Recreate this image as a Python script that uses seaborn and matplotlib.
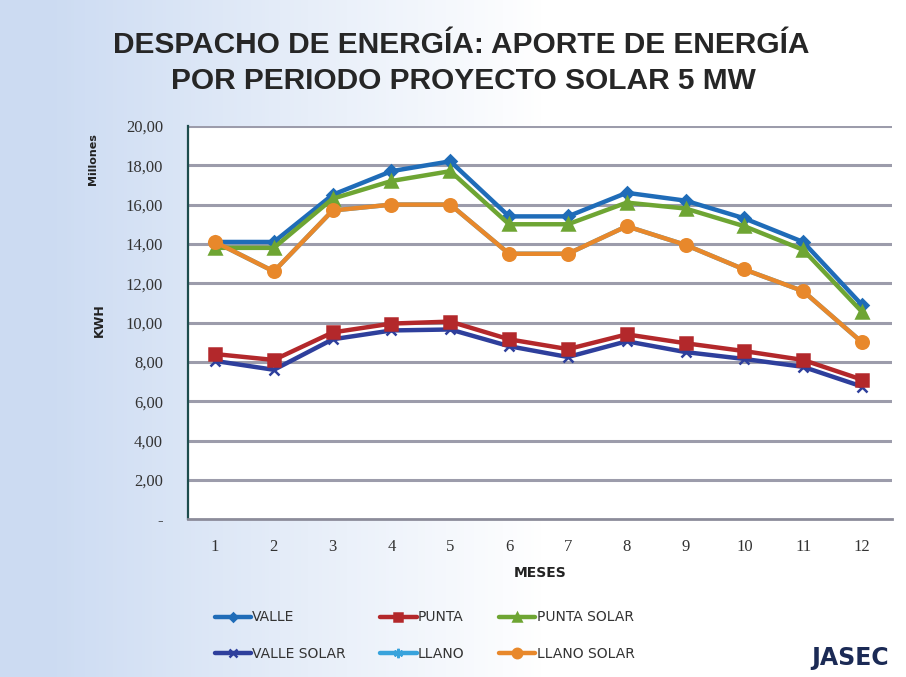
import numpy as np
import pandas as pd
import matplotlib
matplotlib.use("Agg")
import matplotlib.pyplot as plt
import seaborn as sns

# --- data (millions of kWh) ---
meses = [1, 2, 3, 4, 5, 6, 7, 8, 9, 10, 11, 12]
valle = [14.1, 14.1, 16.5, 17.7, 18.2, 15.4, 15.4, 16.6, 16.2, 15.3, 14.1, 10.9]
punta = [8.4, 8.1, 9.5, 9.95, 10.05, 9.15, 8.65, 9.4, 8.95, 8.55, 8.1, 7.1]
punta_solar = [13.8, 13.8, 16.3, 17.2, 17.7, 15.0, 15.0, 16.1, 15.8, 14.9, 13.7, 10.55]
valle_solar = [8.05, 7.6, 9.15, 9.6, 9.65, 8.8, 8.25, 9.05, 8.5, 8.15, 7.75, 6.75]
llano = [14.1, 12.6, 15.7, 16.0, 16.0, 13.5, 13.5, 14.9, 13.95, 12.7, 11.6, 9.0]
llano_solar = [14.1, 12.6, 15.7, 16.0, 16.0, 13.5, 13.5, 14.9, 13.95, 12.7, 11.6, 9.0]

y_ticks = [0, 2, 4, 6, 8, 10, 12, 14, 16, 18, 20]
y_labels = ["-", "2,00", "4,00", "6,00", "8,00", "10,00", "12,00",
            "14,00", "16,00", "18,00", "20,00"]

series = [
    ("VALLE", valle, "#1f6cb8", "D", 6),
    ("VALLE SOLAR", valle_solar, "#2e3f9c", "x", 7),
    ("PUNTA", punta, "#b3282b", "s", 8),
    ("LLANO", llano, "#38a3dc", (6, 2, 0), 9),
    ("PUNTA SOLAR", punta_solar, "#6ea533", "^", 8),
    ("LLANO SOLAR", llano_solar, "#e8882b", "o", 9),
]

sns.set_theme(style="white")
plt.rcParams["font.family"] = ["DejaVu Sans"]

fig = plt.figure(figsize=(9.06, 6.77), dpi=100)

# light blue wash on the left of the slide
bg = fig.add_axes([0, 0, 1, 1], zorder=-10)
grad = np.linspace(0, 1, 256)
grad = np.clip((grad - 0.05) / 0.55, 0, 1)
img = np.zeros((2, 256, 3))
c0 = np.array([0.80, 0.86, 0.95])
c1 = np.array([1.0, 1.0, 1.0])
for i in range(256):
    img[:, i, :] = c0 * (1 - grad[i]) + c1 * grad[i]
bg.imshow(img, aspect="auto", extent=[0, 1, 0, 1])
bg.set_axis_off()

ax = fig.add_axes([0.2075, 0.233, 0.777, 0.581])
ax.set_facecolor("white")

for name, vals, color, marker, ms in series:
    sns.lineplot(x=meses, y=vals, ax=ax, color=color, marker=marker,
                 markersize=ms, linewidth=3.2, label=name,
                 markeredgecolor=color, markeredgewidth=1.8)

ax.set_ylim(0, 20)
ax.set_xlim(0.54, 12.51)
ax.set_yticks(y_ticks)
ax.set_yticklabels(y_labels, family="Liberation Serif", fontsize=12, color="#333333")
ax.set_xticks(meses)
ax.set_xticklabels([str(m) for m in meses], family="Liberation Serif",
                   fontsize=12, color="#333333")
ax.tick_params(axis="y", pad=18, length=0)
ax.tick_params(axis="x", pad=14, length=0)

for y in y_ticks[1:]:
    ax.axhline(y, color="#9c9cab", linewidth=2.2, zorder=0)

for s in ["top", "right"]:
    ax.spines[s].set_visible(False)
ax.spines["left"].set_color("#1d4d4d")
ax.spines["left"].set_linewidth(1.6)
ax.spines["bottom"].set_color("#8c8c9a")
ax.spines["bottom"].set_linewidth(2)

ax.set_xlabel("MESES", fontsize=10, fontweight="bold", color="#222222", labelpad=8)
ax.set_ylabel("")
fig.text(0.110, 0.527, "KWH", rotation=90, fontsize=9, fontweight="bold",
         ha="center", va="center", color="#222222")
fig.text(0.103, 0.765, "Millones", rotation=90, fontsize=8, fontweight="bold",
         ha="center", va="center", color="#222222")

fig.text(0.509, 0.933, "DESPACHO DE ENERGÍA: APORTE DE ENERGÍA",
         fontsize=21.5, fontweight="bold", ha="center", va="center",
         color="#262626", family="Liberation Sans")
fig.text(0.512, 0.880, "POR PERIODO PROYECTO SOLAR 5 MW",
         fontsize=21.5, fontweight="bold", ha="center", va="center",
         color="#262626", family="Liberation Sans")

handles, labels = ax.get_legend_handles_labels()
leg = ax.legend(handles, labels, ncol=3, loc="upper left",
                bbox_to_anchor=(0.02, -0.20), frameon=False,
                fontsize=10, handlelength=2.6, handletextpad=0.1,
                columnspacing=2.5, labelspacing=1.6, markerscale=0.75)
for t in leg.get_texts():
    t.set_color("#333333")

fig.text(0.895, 0.028, "JASEC", fontsize=17, fontweight="bold",
         color="#1b2a55", ha="left", va="center")

fig.savefig("out.png", dpi=100)
